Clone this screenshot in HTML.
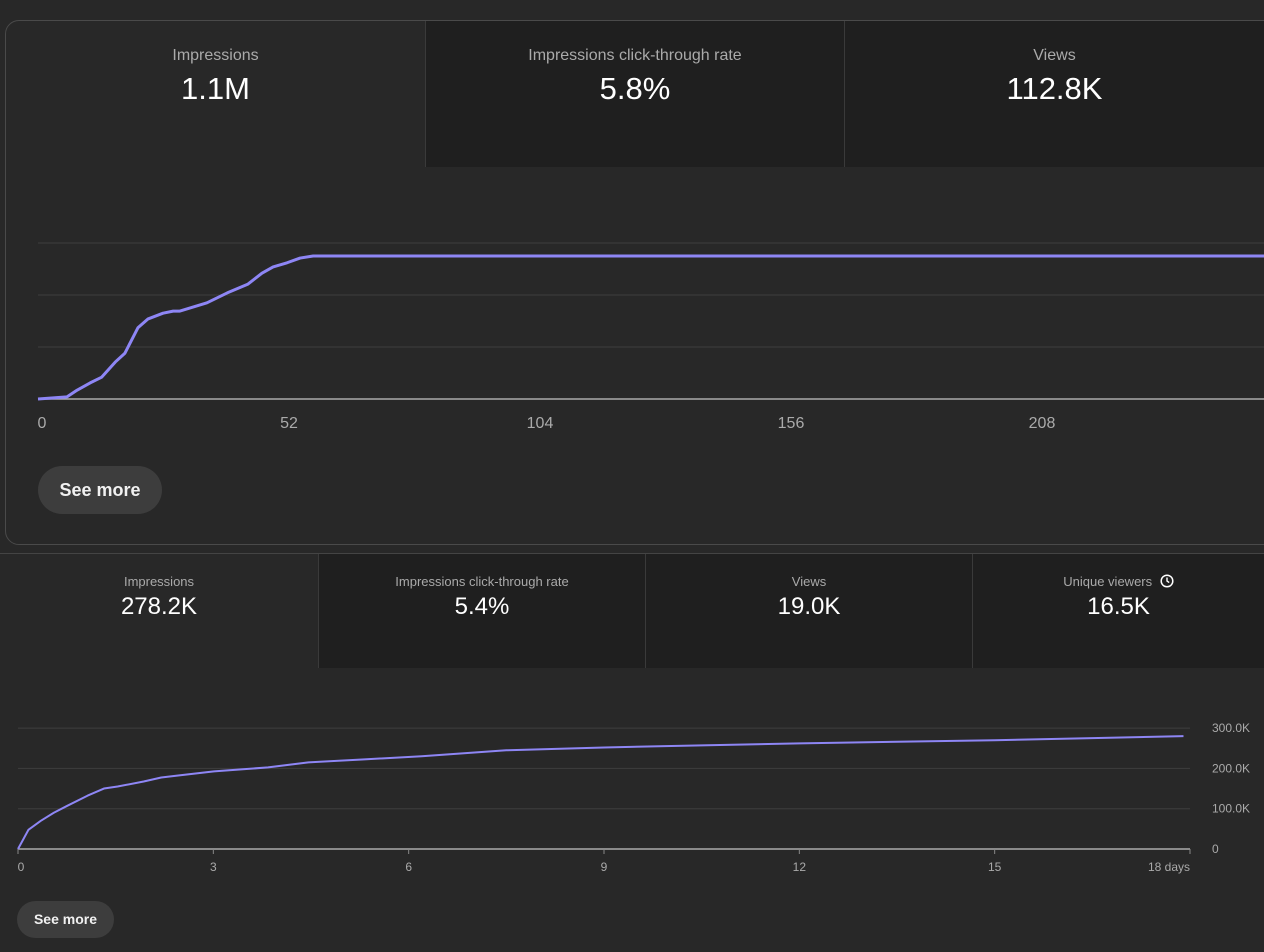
<!DOCTYPE html>
<html><head><meta charset="utf-8">
<style>
body{margin:0;width:1264px;height:952px;background:#282828;overflow:hidden;font-family:"Liberation Sans",Roboto,sans-serif;position:relative}
.abs{position:absolute}
.tab{position:absolute;box-sizing:border-box;text-align:center;color:#fff}
.dark{background:#1f1f1f}
.sep{border-left:1px solid #3a3a3a}
.lbl{color:#aaa}
.btn{position:absolute;background:#3d3d3d;color:#f1f1f1;border-radius:26px;text-align:center;font-weight:bold}
</style></head><body>
<div class="abs" style="left:5px;top:20px;width:1280px;height:525px;border:1px solid #4a4a4a;border-radius:14px;box-sizing:border-box"></div>
<div class="tab" style="left:6px;top:21px;width:419px;height:146px"><div class="lbl" style="margin-top:26px;font-size:16px">Impressions</div><div style="font-size:31px;margin-top:6px">1.1M</div></div>
<div class="tab dark sep" style="left:425px;top:21px;width:419px;height:146px"><div class="lbl" style="margin-top:26px;font-size:16px">Impressions click-through rate</div><div style="font-size:31px;margin-top:6px">5.8%</div></div>
<div class="tab dark sep" style="left:844px;top:21px;width:420px;height:146px"><div class="lbl" style="margin-top:26px;font-size:16px">Views</div><div style="font-size:31px;margin-top:6px">112.8K</div></div>

<svg id="c1" class="abs" style="left:0;top:0" width="1264" height="450"></svg>
<div class="btn" style="left:38px;top:466px;width:124px;height:48px;line-height:48px;font-size:18px">See more</div>

<div class="abs" style="left:0;top:553px;width:1264px;border-top:1px solid #444"></div>
<div class="tab" style="left:0;top:554px;width:318px;height:114px"><div class="lbl" style="margin-top:20px;font-size:13px">Impressions</div><div style="font-size:24px;margin-top:4px">278.2K</div></div>
<div class="tab dark sep" style="left:318px;top:554px;width:327px;height:114px"><div class="lbl" style="margin-top:20px;font-size:13px">Impressions click-through rate</div><div style="font-size:24px;margin-top:4px">5.4%</div></div>
<div class="tab dark sep" style="left:645px;top:554px;width:327px;height:114px"><div class="lbl" style="margin-top:20px;font-size:13px">Views</div><div style="font-size:24px;margin-top:4px">19.0K</div></div>
<div class="tab dark sep" style="left:972px;top:554px;width:292px;height:114px"><div class="lbl" style="margin-top:20px;font-size:13px">Unique viewers <svg width="14" height="14" viewBox="0 0 14 14" style="vertical-align:-2px;margin-left:4px"><circle cx="7" cy="7" r="5.8" fill="none" stroke="#fff" stroke-width="1.5"/><path d="M7 3.5V7l2.2 1.6" fill="none" stroke="#fff" stroke-width="1.4"/></svg></div><div style="font-size:24px;margin-top:4px">16.5K</div></div>

<svg id="c2" class="abs" style="left:0;top:680px" width="1264" height="210"></svg>
<div class="btn" style="left:17px;top:901px;width:97px;height:37px;line-height:37px;font-size:14px;border-radius:19px">See more</div>

<script>
const NS='http://www.w3.org/2000/svg';
function mk(p,t,a){const e=document.createElementNS(NS,t);for(const k in a)e.setAttribute(k,a[k]);p.appendChild(e);return e;}
// Chart 1 data
const days1=[0,6,8.1,10.8,13.2,16,18,20.7,22.8,25.9,28,29.4,35,39.2,43.5,46.4,48.7,51.6,54.3,57,260];
const vals1=[0,0.04,0.17,0.31,0.42,0.71,0.88,1.37,1.54,1.65,1.69,1.69,1.85,2.04,2.21,2.42,2.54,2.62,2.71,2.75,2.75];
const ticks1=[0,52,104,156,208];
const grid1=[1,2,3];
// Chart 2 data
const days2=[0,0.16,0.35,0.55,0.76,1.07,1.32,1.53,1.93,2.2,2.46,3.01,3.84,4.46,5.32,6.2,7.5,9,10.5,12,13.5,15,16.5,17.9];
const vals2=[0,47.5,70,90,107.5,132.5,150,155,167.5,177.5,182.5,192.5,202.5,215,222.5,230,245,252,257,262,266,270,275,280];
const ticks2=[0,3,6,9,12,15,18];
const tickLabels2=['0','3','6','9','12','15','18 days'];
const yTicks2=[0,100,200,300];
const yLabels2=['0','100.0K','200.0K','300.0K'];

(function(){
const s=document.getElementById('c1');
const x=d=>38+d*251/52, y=v=>399-v*52;
grid1.forEach(g=>{const l=mk(s,'line',{x1:38,x2:1264,y1:y(g),y2:y(g),stroke:'#3e3e3e','stroke-width':1});

});
const ax=mk(s,'line',{x1:38,x2:1264,y1:399,y2:399,stroke:'#aaa','stroke-width':1.5});


ticks1.forEach(t=>{const tx=mk(s,'text',{x:x(t)+(t==0?4:0),y:428,fill:'#aaa','font-size':16,'text-anchor':'middle','font-family':'Liberation Sans, sans-serif'});tx.textContent=t;

});
const pl=mk(s,'polyline',{points:days1.map((d,i)=>x(d)+','+y(vals1[i])).join(' '),fill:'none',stroke:'#8e86f5','stroke-width':3,'stroke-linejoin':'round'});


})();
(function(){
const s=document.getElementById('c2');const oy=680;
const x=d=>18+d*(1190-18)/18, y=v=>849-oy-v*0.403;
yTicks2.forEach((g,i)=>{const l=mk(s,'line',{x1:18,x2:1190,y1:y(g),y2:y(g),stroke:g==0?'#aaa':'#3e3e3e','stroke-width':g==0?1.5:1});


const t=mk(s,'text',{x:1212,y:y(g)+4,fill:'#aaa','font-size':12,'font-family':'Liberation Sans, sans-serif'});t.textContent=yLabels2[i];

});
ticks2.forEach((t,i)=>{mk(s,'line',{x1:x(t),x2:x(t),y1:y(0),y2:y(0)+5,stroke:'#888'});
const tx=mk(s,'text',{x:x(t)+(i==0?3:0),y:y(0)+22,fill:'#aaa','font-size':12,'text-anchor':i==ticks2.length-1?'end':'middle','font-family':'Liberation Sans, sans-serif'});tx.textContent=tickLabels2[i];

});
const pl=mk(s,'polyline',{points:days2.map((d,i)=>x(d)+','+y(vals2[i])).join(' '),fill:'none',stroke:'#8e86f5','stroke-width':2,'stroke-linejoin':'round'});


})();
</script>
</body></html>
